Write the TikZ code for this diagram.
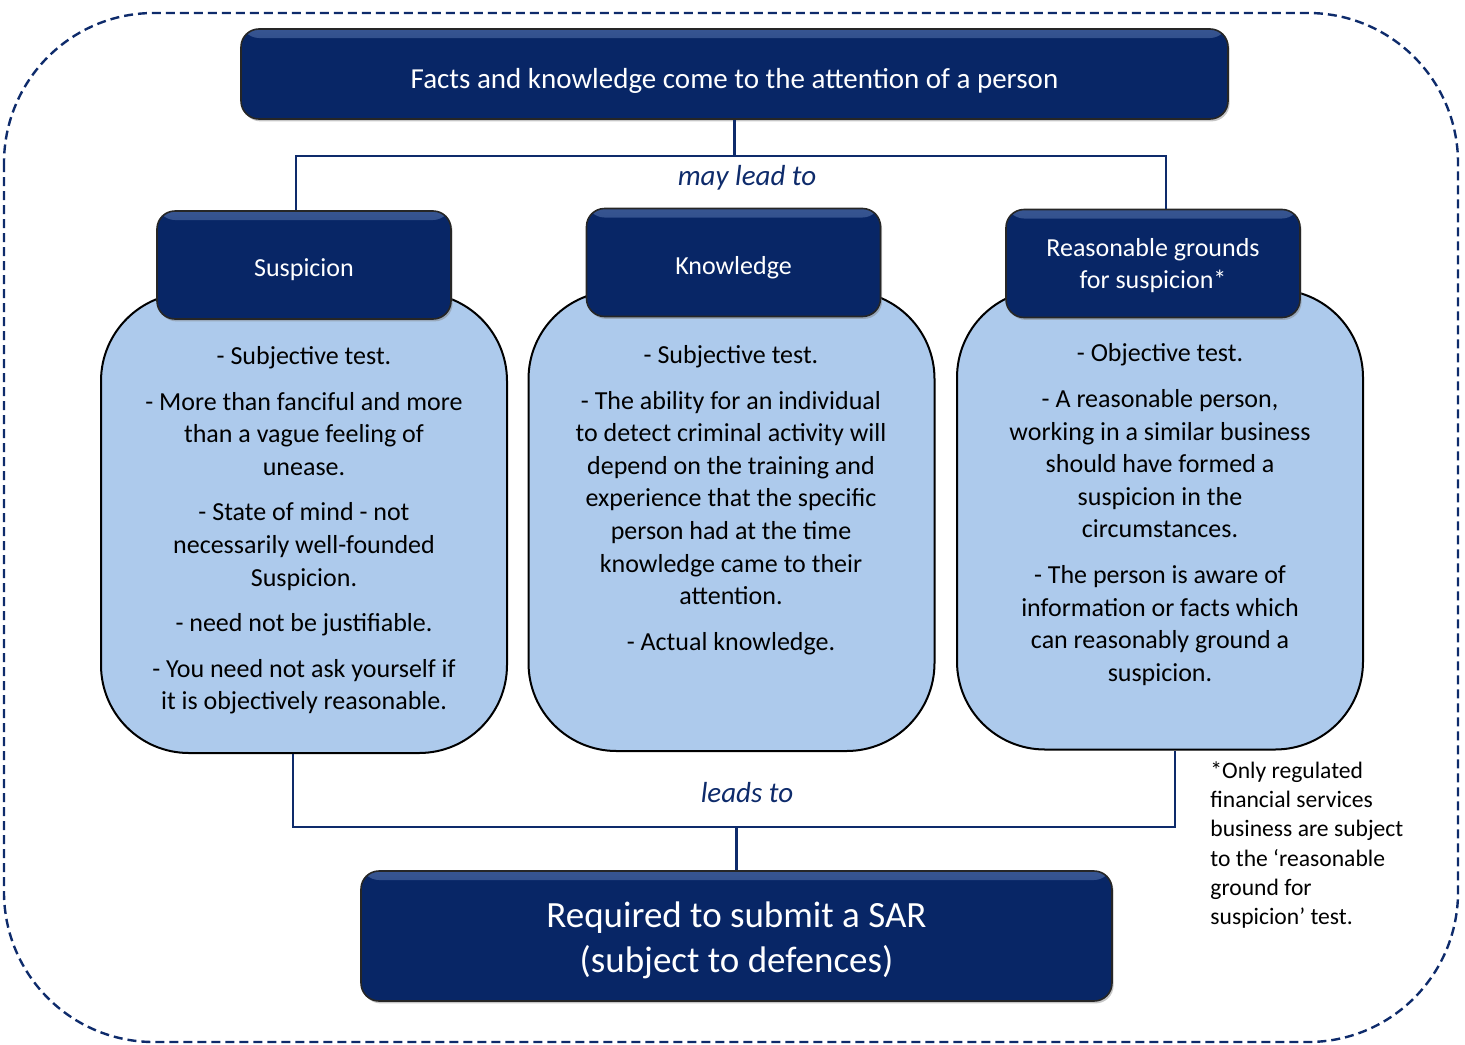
\documentclass[tikz,border=0pt]{standalone}
\usepackage{fontspec}
\setmainfont{Carlito}
\usetikzlibrary{shadows,positioning}

\definecolor{navy}{RGB}{8,38,102}
\definecolor{navyhi}{RGB}{55,85,145}
\definecolor{paleblue}{RGB}{173,202,236}
\definecolor{linkblue}{RGB}{14,43,107}

% lower a box but keep its size, so the node does not re-centre it
\newcommand{\dropby}[2]{\raisebox{-#1}[\height][\depth]{#2}}

\tikzset{
  titlebox/.style={draw=black!85, line width=0.8pt, fill=navy, text=white,
    rounded corners=9pt, inner sep=0pt, align=center,
    drop shadow={opacity=0.45, shadow xshift=0.8pt, shadow yshift=-1.2pt},
    path picture={\shade[top color=navyhi, bottom color=navy]
      (path picture bounding box.north west) rectangle
      ([yshift=-4.5pt]path picture bounding box.north east);}},
  headbox/.style={titlebox, minimum width=147pt, minimum height=54pt,
    font=\fontsize{13}{16}\selectfont},
  bodybox/.style={draw=black, line width=1pt, fill=paleblue,
    rounded corners=44pt, minimum width=203pt, minimum height=230pt, inner sep=0pt},
  bodytext/.style={anchor=north, align=center, inner sep=0pt,
    font=\fontsize{13}{16.3}\selectfont},
  link/.style={draw=linkblue, line width=1.1pt},
  linklabel/.style={text=linkblue, inner sep=1pt, font=\fontsize{14.5}{16}\selectfont\itshape},
}

\begin{document}
\begin{tikzpicture}[x=0.5pt, y=-0.5pt]
    \useasboundingbox (0,0) rectangle (1465,1044);
    % Outer dashed frame
    \draw[linkblue, line width=1.2pt, dash pattern=on 4.5pt off 2.5pt, rounded corners=75pt]
      (4,13) rectangle (1458,1042);

    % The three light blue panels
    \node[bodybox] (suspbody) at (304,523) {};
    \node[bodybox] (knowbody) at (731.5,521) {};
    \node[bodybox] (rgsbody) at (1160,519.5) {};

    % Top and bottom statements
    \node[titlebox, minimum width=493.5pt, minimum height=45pt,
      font=\fontsize{14.5}{17}\selectfont] (facts) at (734.5,74)
      {\dropby{3.5pt}{Facts and knowledge come to the attention of a person}};
    \node[titlebox, minimum width=375.5pt, minimum height=65pt,
      font=\fontsize{18.5}{22.5}\selectfont] (sar) at (736.5,936)
      {\dropby{2.5pt}{\begin{tabular}{@{}c@{}}Required to submit a SAR\\(subject to defences)\end{tabular}}};

    % Panel headings
    \node[headbox] (susp) at (304,265) {\dropby{2.5pt}{Suspicion}};
    \node[headbox] (know) at (733.5,262.5) {\dropby{2.5pt}{Knowledge}};
    \node[headbox] (rgs) at (1153,263.5)
      {\dropby{1.5pt}{\begin{tabular}{@{}c@{}}Reasonable grounds\\for suspicion*\end{tabular}}};

    % Panel texts
    \node[bodytext] (susptext) at (304,346)
      {- Subjective test.\\[6.5pt]
       - More than fanciful and more\\than a vague feeling of\\unease.\\[6.5pt]
       - State of mind - not\\necessarily well-founded\\Suspicion.\\[6.5pt]
       - need not be justifiable.\\[6.5pt]
       - You need not ask yourself if\\it is objectively reasonable.};
    \node[bodytext] (knowtext) at (731,345)
      {- Subjective test.\\[6.5pt]
       - The ability for an individual\\to detect criminal activity will\\depend on the training and\\experience that the specific\\person had at the time\\knowledge came to their\\attention.\\[6.5pt]
       - Actual knowledge.};
    \node[bodytext] (rgstext) at (1160,343.5)
      {- Objective test.\\[6.5pt]
       - A reasonable person,\\working in a similar business\\should have formed a\\suspicion in the\\circumstances.\\[6.5pt]
       - The person is aware of\\information or facts which\\can reasonably ground a\\suspicion.};

    % Footnote
    \node[anchor=north west, align=left, inner sep=0pt,
      font=\fontsize{11.8}{14.65}\selectfont] (note) at (1210,761)
      {*Only regulated\\financial services\\business are subject\\to the `reasonable\\ground for\\suspicion' test.};

    % Connectors from the top statement
    \coordinate (topl) at (296,156);
    \coordinate (topr) at (1166,156);
    \draw[link] (facts.south) -- (facts.south |- topl);
    \draw[link] (susp.north -| topl) -- (topl) -- (topr) -- (rgs.north -| topr);
    \node[linklabel] (maylead) at (747,178) {may lead to};

    % Connectors to the bottom statement
    \coordinate (botl) at (293,827);
    \coordinate (botr) at (1175,827);
    \draw[link] (suspbody.south -| botl) -- (botl) -- (botr) -- (rgsbody.south -| botr);
    \draw[link] (sar.north) -- (sar.north |- botl);
    \node[linklabel] (leadsto) at (747,793) {leads to};
\end{tikzpicture}
\end{document}
